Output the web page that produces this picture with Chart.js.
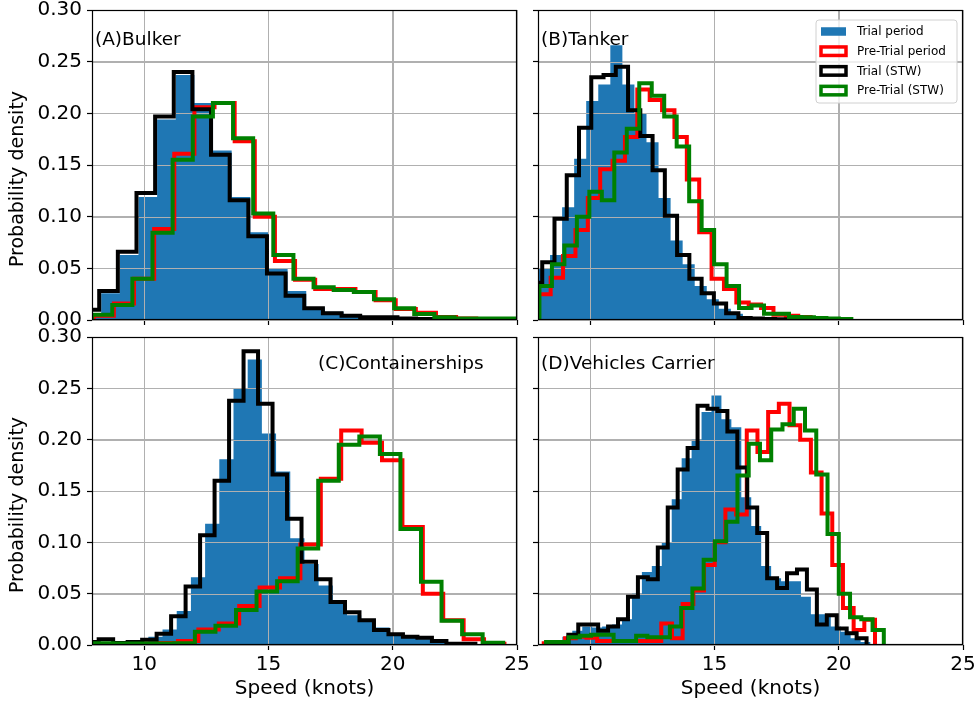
<!DOCTYPE html>
<html><head><meta charset="utf-8">
<script src="https://cdn.jsdelivr.net/npm/chart.js@4.4.1/dist/chart.umd.min.js"></script>
<style>
html,body{margin:0;padding:0;background:#fff;}
#wrap{position:relative;width:976px;height:704px;overflow:hidden;}
canvas{position:absolute;left:0;top:0;}
</style></head><body>
<div id="wrap">
<canvas id="cA" width="976" height="704"></canvas>
<canvas id="cB" width="976" height="704"></canvas>
<canvas id="cC" width="976" height="704"></canvas>
<canvas id="cD" width="976" height="704"></canvas>
</div>
<script>
// ---------------- DATA ----------------
const xTicks = [10, 15, 20, 25];
const yTicks = [0, 0.05, 0.10, 0.15, 0.20, 0.25, 0.30];
const seriesNames = ['Trial period', 'Pre-Trial period', 'Trial (STW)', 'Pre-Trial (STW)'];
const panelNames = ['(A)Bulker', '(B)Tanker', '(C)Containerships', '(D)Vehicles Carrier'];
const xTitle = 'Speed (knots)';
const yTitle = 'Probability density';

// Per panel: first bin edge and bin width (knots) for each series in seriesNames order,
// then density per bin for each series.
// (A) Bulker
const binStartA = [7.52, 7.97, 7.44, 7.905];
const binWidthA = [0.75, 0.81, 0.75, 0.81];
const trialA = [0.006, 0.026, 0.063, 0.119, 0.194, 0.237, 0.21, 0.164, 0.119, 0.085, 0.05, 0.028, 0.012, 0.008, 0.005, 0.003, 0.002, 0.001];
const preTrialA = [0.004, 0.016, 0.04, 0.088, 0.161, 0.206, 0.21, 0.173, 0.1, 0.057, 0.039, 0.03, 0.03, 0.027, 0.019, 0.0106, 0.007, 0.003, 0.0015, 0.001, 0.001];
const trialStwA = [0.01, 0.028, 0.066, 0.123, 0.197, 0.24, 0.204, 0.16, 0.116, 0.081, 0.045, 0.0235, 0.0113, 0.0065, 0.004, 0.0026, 0.0026, 0.0015, 0.001];
const preTrialStwA = [0.005, 0.0145, 0.04, 0.0845, 0.155, 0.197, 0.21, 0.176, 0.103, 0.063, 0.04, 0.0316, 0.029, 0.027, 0.02, 0.0113, 0.0058, 0.0026, 0.0015, 0.0015, 0.0015];

// (B) Tanker
const binStartB = [7.9, 7.912, 7.577, 7.958];
const binWidthB = [0.485, 0.498, 0.4933, 0.502];
const trialB = [0.05, 0.063, 0.109, 0.156, 0.212, 0.228, 0.266, 0.228, 0.2, 0.172, 0.118, 0.077, 0.054, 0.033, 0.02, 0.011, 0.006, 0.003, 0.001];
const preTrialB = [0.025, 0.041, 0.062, 0.087, 0.118, 0.146, 0.154, 0.177, 0.223, 0.213, 0.203, 0.177, 0.136, 0.085, 0.04, 0.03, 0.017, 0.015, 0.0115, 0.005, 0.004, 0.003];
const trialStwB = [0.036, 0.056, 0.098, 0.14, 0.186, 0.235, 0.237, 0.245, 0.203, 0.178, 0.145, 0.101, 0.063, 0.04, 0.026, 0.016, 0.0065, 0.002, 0.0015, 0.001, 0.0008];
const preTrialStwB = [0.033, 0.054, 0.072, 0.1, 0.124, 0.116, 0.162, 0.185, 0.229, 0.217, 0.197, 0.168, 0.115, 0.087, 0.054, 0.033, 0.0115, 0.014, 0.006, 0.006, 0.003, 0.0026, 0.002, 0.0015, 0.001];

// (C) Containerships
const binStartC = [7.883, 8.075, 7.585, 7.905];
const binWidthC = [0.571, 0.821, 0.583, 0.827];
const trialC = [0.003, 0.002, 0.002, 0.003, 0.008, 0.015, 0.033, 0.066, 0.118, 0.181, 0.25, 0.278, 0.206, 0.169, 0.104, 0.079, 0.058, 0.04, 0.029, 0.024, 0.017, 0.011, 0.008, 0.0056, 0.0023, 0.001];
const preTrialC = [0.001, 0.001, 0.0015, 0.002, 0.004, 0.015, 0.021, 0.038, 0.056, 0.065, 0.098, 0.162, 0.209, 0.197, 0.18, 0.115, 0.05, 0.024, 0.0056, 0.0013];
const trialStwC = [0.003, 0.0056, 0.002, 0.003, 0.005, 0.011, 0.028, 0.057, 0.107, 0.16, 0.238, 0.286, 0.235, 0.166, 0.123, 0.081, 0.064, 0.042, 0.032, 0.024, 0.0145, 0.0105, 0.008, 0.007, 0.004, 0.0013, 0.0013];
const preTrialStwC = [0.0016, 0.0015, 0.0015, 0.0015, 0.0016, 0.013, 0.0187, 0.034, 0.052, 0.062, 0.094, 0.16, 0.195, 0.203, 0.186, 0.113, 0.0615, 0.0237, 0.0105, 0.0023];

// (D) Vehicles Carrier
const binStartD = [8.08, 8.13, 9.12, 8.224];
const binWidthD = [0.4, 0.43, 0.4, 0.453];
const trialD = [0.002, 0.004, 0.008, 0.014, 0.018, 0.017, 0.018, 0.02, 0.025, 0.05, 0.071, 0.077, 0.1, 0.142, 0.182, 0.2, 0.227, 0.243, 0.22, 0.212, 0.144, 0.116, 0.077, 0.065, 0.062, 0.062, 0.047, 0.03, 0.03, 0.018, 0.013, 0.0065, 0.003];
const preTrialD = [0.0016, 0.003, 0.0065, 0.008, 0.007, 0.004, 0.004, 0.004, 0.004, 0.004, 0.004, 0.021, 0.0065, 0.04, 0.053, 0.078, 0.1, 0.132, 0.127, 0.209, 0.188, 0.227, 0.235, 0.214, 0.2, 0.168, 0.128, 0.078, 0.036, 0.0147, 0.0245];
const trialStwD = [0.01, 0.02, 0.02, 0.014, 0.018, 0.025, 0.047, 0.066, 0.064, 0.095, 0.134, 0.171, 0.192, 0.233, 0.23, 0.228, 0.208, 0.173, 0.134, 0.109, 0.065, 0.0555, 0.07, 0.0735, 0.054, 0.02, 0.029, 0.016, 0.0114, 0.0065];
const preTrialStwD = [0.003, 0.003, 0.0075, 0.009, 0.01, 0.01, 0.004, 0.004, 0.009, 0.0075, 0.0075, 0.018, 0.036, 0.055, 0.083, 0.101, 0.12, 0.165, 0.196, 0.18, 0.21, 0.215, 0.23, 0.209, 0.166, 0.108, 0.05, 0.027, 0.025, 0.0147];

// ---------------- STYLE / LAYOUT ----------------
Chart.defaults.font.family = "'DejaVu Sans', sans-serif";
const FONT = "'DejaVu Sans', sans-serif";
const seriesColors = ['#1f77b4', '#ff0000', '#000000', '#008000'];
const GRID = '#b0b0b0';

// histogram bins -> outline points (edges from start/width, heights from values)
function histOutline(start, width, values) {
  const pts = [{x: start, y: 0}];
  values.forEach((v, i) => {
    pts.push({x: start + i * width, y: v});
    pts.push({x: start + (i + 1) * width, y: v});
  });
  pts.push({x: start + values.length * width, y: 0});
  return pts;
}

const gridOverBars = {
  id: 'gridOverBars',
  afterDatasetDraw(chart, args) {
    if (args.index !== 0) return;
    const {ctx, chartArea: a, scales: {x, y}} = chart;
    ctx.save();
    ctx.strokeStyle = GRID; ctx.lineWidth = 1;
    ctx.beginPath();
    xTicks.forEach(v => { const px = Math.round(x.getPixelForValue(v)) + 0.5; ctx.moveTo(px, a.top); ctx.lineTo(px, a.bottom); });
    yTicks.forEach(v => { const py = Math.round(y.getPixelForValue(v)) + 0.5; ctx.moveTo(a.left, py); ctx.lineTo(a.right, py); });
    ctx.stroke();
    ctx.restore();
  }
};

const frameAndLabel = {
  id: 'frameAndLabel',
  afterDatasetsDraw(chart, args, opts) {
    const {ctx, chartArea: a} = chart;
    ctx.save();
    ctx.strokeStyle = '#000'; ctx.lineWidth = 1.2;
    ctx.strokeRect(Math.round(a.left) + 0.5, Math.round(a.top) + 0.5, Math.round(a.right - a.left) - 1, Math.round(a.bottom - a.top) - 1);
    ctx.fillStyle = '#000';
    ctx.font = '18.5px ' + FONT;
    ctx.textBaseline = 'middle'; ctx.textAlign = 'left';
    ctx.fillText(opts.text, a.left + opts.dx, a.top + opts.dy);
    if (opts.yTitle) {
      ctx.save();
      ctx.translate(18, (a.top + a.bottom) / 2 + opts.yTitleShift);
      ctx.rotate(-Math.PI / 2);
      ctx.textAlign = 'center';
      ctx.font = '19px ' + FONT;
      ctx.fillText(yTitle, 0, 0);
      ctx.restore();
    }
    ctx.restore();
  }
};

const legendBox = {
  id: 'legendBox',
  afterDraw(chart) {
    const {ctx, chartArea: a} = chart;
    const bx = a.right - 147, by = a.top + 10, bw = 141, bh = 83, r = 3;
    ctx.save();
    ctx.beginPath();
    ctx.moveTo(bx + r, by); ctx.lineTo(bx + bw - r, by); ctx.arcTo(bx + bw, by, bx + bw, by + r, r);
    ctx.lineTo(bx + bw, by + bh - r); ctx.arcTo(bx + bw, by + bh, bx + bw - r, by + bh, r);
    ctx.lineTo(bx + r, by + bh); ctx.arcTo(bx, by + bh, bx, by + bh - r, r);
    ctx.lineTo(bx, by + r); ctx.arcTo(bx, by, bx + r, by, r); ctx.closePath();
    ctx.fillStyle = 'rgba(255,255,255,0.8)'; ctx.fill();
    ctx.strokeStyle = '#d0d0d0'; ctx.lineWidth = 1; ctx.stroke();
    ctx.font = '12px ' + FONT; ctx.textBaseline = 'middle'; ctx.textAlign = 'left';
    seriesNames.forEach((name, i) => {
      const cy = by + 11.5 + i * 19.7;
      const px = bx + 5, pw = 25, ph = 8.5;
      if (i === 0) {
        ctx.fillStyle = seriesColors[0]; ctx.fillRect(px, cy - ph / 2, pw, ph);
      } else {
        ctx.strokeStyle = seriesColors[i]; ctx.lineWidth = 3.5; ctx.lineJoin = 'miter';
        ctx.strokeRect(px, cy - ph / 2, pw, ph);
      }
      ctx.fillStyle = '#000';
      ctx.fillText(name, bx + 41, cy + 0.5);
    });
    ctx.restore();
  }
};

function makeDatasets(starts, widths, seriesList) {
  return seriesList.map((vals, i) => {
    const base = {
      label: seriesNames[i],
      data: histOutline(starts[i], widths[i], vals),
      pointRadius: 0,
      clip: 0,
      borderJoinStyle: 'miter',
      borderCapStyle: 'butt'
    };
    if (i === 0) {
      return Object.assign(base, {fill: 'origin', backgroundColor: seriesColors[0], borderWidth: 0, borderColor: seriesColors[0], order: 3});
    }
    return Object.assign(base, {fill: false, borderColor: seriesColors[i], borderWidth: 4, order: 3 - i});
  });
}

function makeChart(id, cfg, starts, widths, seriesList, extraPlugins) {
  new Chart(document.getElementById(id), {
    type: 'line',
    data: {datasets: makeDatasets(starts, widths, seriesList)},
    options: {
      responsive: false, animation: false, devicePixelRatio: 1, events: [],
      layout: {padding: {left: cfg.pl, top: cfg.pt, right: cfg.pr, bottom: cfg.pb}},
      plugins: {
        legend: {display: false}, tooltip: {enabled: false},
        frameAndLabel: {text: cfg.label, dx: cfg.ldx, dy: cfg.ldy, yTitle: cfg.showY, yTitleShift: 14}
      },
      scales: {
        x: {
          type: 'linear', min: 7.9, max: 25,
          afterBuildTicks: s => { s.ticks = xTicks.map(v => ({value: v})); },
          ticks: {display: cfg.showX, autoSkip: false, maxRotation: 0, color: '#000', font: {size: 20}, padding: 3},
          grid: {color: GRID, lineWidth: 1, tickColor: '#000', tickLength: 5, tickWidth: 1.2, drawTicks: true},
          border: {display: false},
          title: {display: cfg.showX, text: xTitle, color: '#000', font: {size: 20}, padding: {top: 0, bottom: 3}},
          afterFit: s => { s.height = cfg.xh; s.paddingLeft = 0; s.paddingRight = 0; }
        },
        y: {
          type: 'linear', min: 0, max: 0.3,
          afterBuildTicks: s => { s.ticks = yTicks.map(v => ({value: v})); },
          ticks: {display: cfg.showY, color: '#000', font: {size: 20}, padding: 5, callback: v => Number(v).toFixed(2)},
          grid: {color: GRID, lineWidth: 1, tickColor: '#000', tickLength: 5, tickWidth: 1.2, drawTicks: true},
          border: {display: false},
          title: {display: false},
          afterFit: s => { s.width = cfg.yw; s.paddingTop = 0; s.paddingBottom = 0; }
        }
      }
    },
    plugins: [gridOverBars, frameAndLabel].concat(extraPlugins || [])
  });
}

makeChart('cA', {pl: 0, pt: 10, pr: 459, pb: 379, yw: 92, xh: 5, showX: false, showY: true, label: panelNames[0], ldx: 3, ldy: 30},
  binStartA, binWidthA, [trialA, preTrialA, trialStwA, preTrialStwA]);
makeChart('cB', {pl: 533, pt: 10, pr: 13, pb: 379, yw: 5, xh: 5, showX: false, showY: false, label: panelNames[1], ldx: 3, ldy: 30},
  binStartB, binWidthB, [trialB, preTrialB, trialStwB, preTrialStwB], [legendBox]);
makeChart('cC', {pl: 0, pt: 337, pr: 459, pb: 0, yw: 92, xh: 59, showX: true, showY: true, label: panelNames[2], ldx: 226, ldy: 27},
  binStartC, binWidthC, [trialC, preTrialC, trialStwC, preTrialStwC]);
makeChart('cD', {pl: 533, pt: 337, pr: 13, pb: 0, yw: 5, xh: 59, showX: true, showY: false, label: panelNames[3], ldx: 3, ldy: 27},
  binStartD, binWidthD, [trialD, preTrialD, trialStwD, preTrialStwD]);
</script>
</body></html>
